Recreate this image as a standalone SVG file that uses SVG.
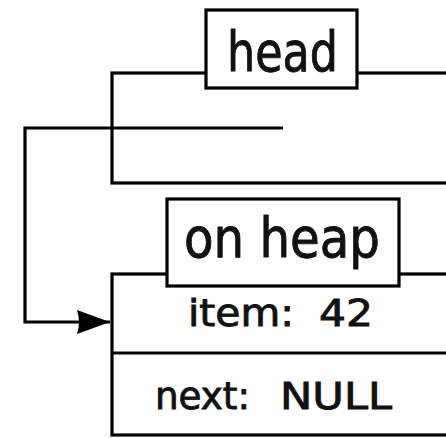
<svg xmlns="http://www.w3.org/2000/svg" width="446" height="438" viewBox="0 0 446 438">
<style>
.frame{fill:none;stroke:#000;stroke-width:3.2}
.label{fill:#fff;stroke:#000;stroke-width:3.2}
.wire{fill:none;stroke:#000;stroke-width:3.2}
text{font-family:"DejaVu Sans","Liberation Sans",sans-serif;fill:#111;stroke:#111;stroke-width:0.9}
.big{font-size:55px}
.small{font-size:38px}
</style>
<defs>
<marker id="arr" markerWidth="34" markerHeight="26" refX="34" refY="13" orient="auto" markerUnits="userSpaceOnUse">
<path d="M34,13 L1,1 Q5,13 1,25 Z" fill="#000"/>
</marker>
</defs>
<rect width="446" height="438" fill="#fff"/>
<g id="stack-frame">
<rect class="frame" x="112" y="73" width="400" height="110"/>
<rect class="label" x="206" y="10" width="151" height="78"/>
<text class="big" x="227" y="71" textLength="111" lengthAdjust="spacingAndGlyphs">head</text>
</g>
<g id="heap-node">
<rect class="frame" x="112" y="274" width="400" height="161"/>
<line class="frame" x1="112" y1="353" x2="446" y2="353"/>
<rect class="label" x="167" y="199" width="232" height="87"/>
<text class="big" x="184" y="257" textLength="196" lengthAdjust="spacingAndGlyphs">on heap</text>
<text class="small" x="188" y="326" textLength="106" lengthAdjust="spacingAndGlyphs">item:</text>
<text class="small" x="319" y="326" textLength="54" lengthAdjust="spacingAndGlyphs">42</text>
<text class="small" x="155" y="409" textLength="95" lengthAdjust="spacingAndGlyphs">next:</text>
<text class="small" x="280" y="409" textLength="112" lengthAdjust="spacingAndGlyphs">NULL</text>
</g>
<g id="connectors">
<path class="wire" d="M283,128 H25 V322 H110" marker-end="url(#arr)"/>
</g>
</svg>
